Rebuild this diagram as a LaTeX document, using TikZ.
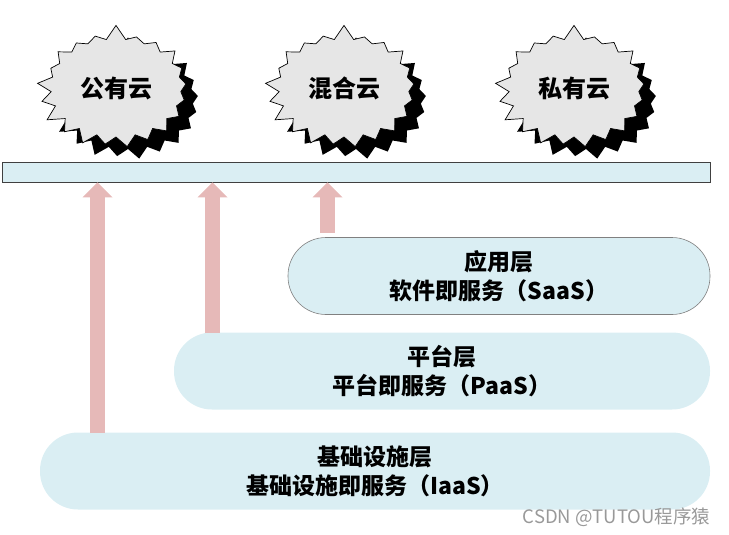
\documentclass[tikz,border=0pt]{standalone}
\usepackage{fontspec}
\newfontfamily\cjk{Noto Sans CJK SC}
\usetikzlibrary{shapes.symbols,shadows,arrows.meta}
\definecolor{layerblue}{HTML}{DAEEF3}
\definecolor{uppink}{HTML}{E6B9B8}
\definecolor{cloudgray}{HTML}{E6E6E6}
\begin{document}
\begin{tikzpicture}[x=1pt,y=-1pt,
  cloud/.style={starburst,starburst points=21,starburst point height=15pt,random starburst=#1,
    minimum width=160pt,minimum height=128pt,inner sep=0pt,fill=cloudgray,draw=black,line width=0.7pt,
    font=\cjk\bfseries\fontsize{24}{24}\selectfont,
    drop shadow={fill=black,opacity=1,shadow xshift=12pt,shadow yshift=-12pt}},
  layer/.style={rectangle,rounded corners=38pt,fill=layerblue,minimum height=77pt,inner sep=0pt,
    align=center,font=\cjk\bfseries\fontsize{23}{29}\selectfont},
  uparrow/.style={draw=uppink,line width=15pt,-{Triangle[width=30pt,length=15pt,line width=0pt]}}]
\useasboundingbox (0,0) rectangle (729,535);
\node[cloud=7] (public) at (116,88) {公有云};
\node[cloud=7] (hybrid) at (344,88) {混合云};
\node[cloud=7] (private) at (574,88) {私有云};
\node[draw=black!75,fill=layerblue,line width=0.8pt,minimum width=708pt,minimum height=20pt,inner sep=0pt] (bar) at (356,172) {};
\node[layer,draw=black!50,line width=0.6pt,minimum width=422pt] (saas) at (499,276) {应用层\\软件即服务（SaaS）};
\node[layer,minimum width=536pt] (paas) at (442,371) {平台层\\平台即服务（PaaS）};
\node[layer,minimum width=670pt] (iaas) at (375,471) {基础设施层\\基础设施即服务（IaaS）};
\coordinate (up1) at (97.5,433);
\coordinate (up2) at (212.5,333);
\coordinate (up3) at (327.5,233);
\draw[uparrow] (up1) -- (up1 |- bar.south);
\draw[uparrow] (up2) -- (up2 |- bar.south);
\draw[uparrow] (up3) -- (up3 |- bar.south);
\node[text=black!40,font=\cjk\fontsize{18.5}{18.5}\selectfont,anchor=east] (mark) at (714,517) {CSDN @TUTOU程序猿};
\end{tikzpicture}
\end{document}
